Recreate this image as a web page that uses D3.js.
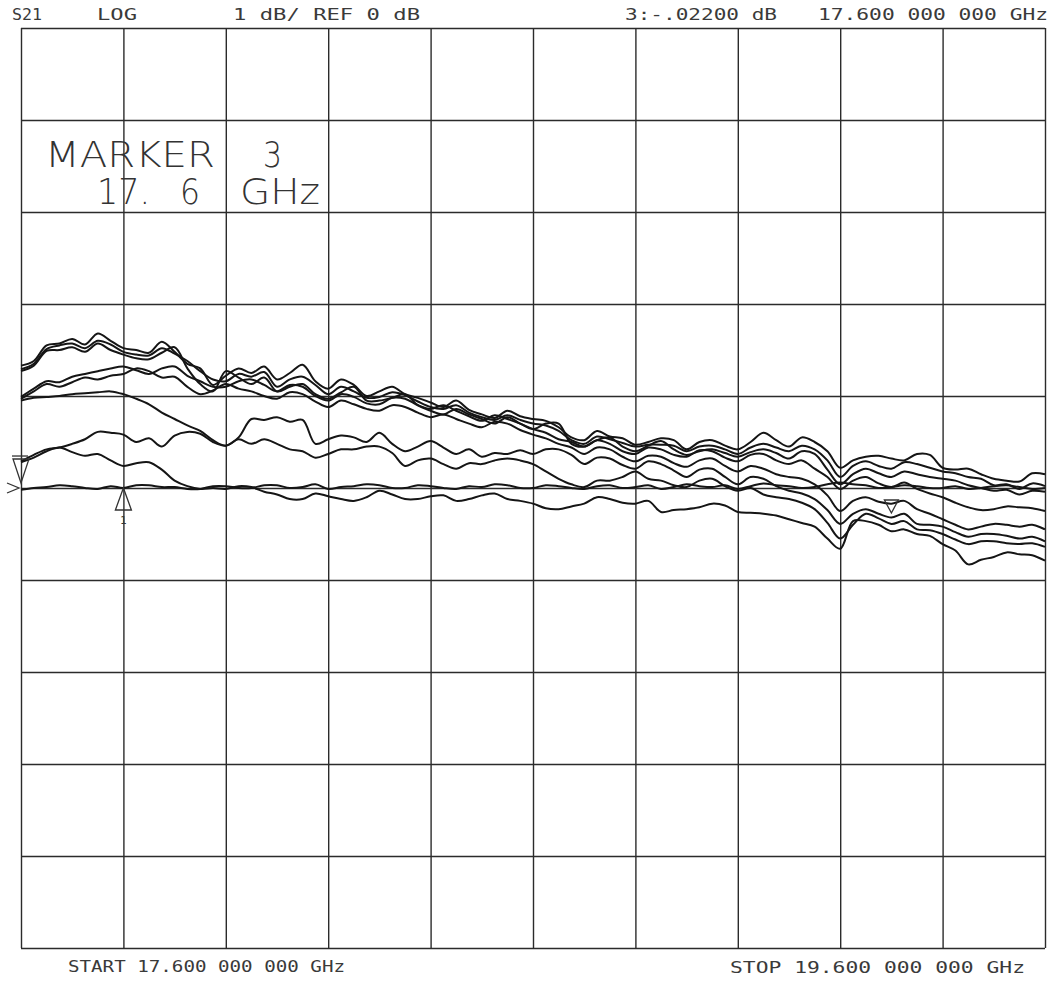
<!DOCTYPE html>
<html>
<head>
<meta charset="utf-8">
<script src="https://cdn.jsdelivr.net/npm/d3@7"></script>
<style>
  body { margin: 0; background: #fff; }
  svg { display: block; }
</style>
</head>
<body>
<svg id="chart"></svg>
<script>
// sweep points (GHz), 81 points
const freqs = [
  17.600, 17.625, 17.650, 17.675, 17.700, 17.725, 17.750, 17.775, 17.800, 17.825,
  17.850, 17.875, 17.900, 17.925, 17.950, 17.975, 18.000, 18.025, 18.050, 18.075,
  18.100, 18.125, 18.150, 18.175, 18.200, 18.225, 18.250, 18.275, 18.300, 18.325,
  18.350, 18.375, 18.400, 18.425, 18.450, 18.475, 18.500, 18.525, 18.550, 18.575,
  18.600, 18.625, 18.650, 18.675, 18.700, 18.725, 18.750, 18.775, 18.800, 18.825,
  18.850, 18.875, 18.900, 18.925, 18.950, 18.975, 19.000, 19.025, 19.050, 19.075,
  19.100, 19.125, 19.150, 19.175, 19.200, 19.225, 19.250, 19.275, 19.300, 19.325,
  19.350, 19.375, 19.400, 19.425, 19.450, 19.475, 19.500, 19.525, 19.550, 19.575,
  19.600];

const freqTicks = [17.6, 17.8, 18.0, 18.2, 18.4, 18.6, 18.8, 19.0, 19.2, 19.4, 19.6];
const dbTicks = [-5, -4, -3, -2, -1, 0, 1, 2, 3, 4, 5];

// S21 traces, dB
const trace1 = [
  1.33, 1.38, 1.55, 1.57, 1.62, 1.56, 1.68, 1.60, 1.52, 1.50,
  1.47, 1.59, 1.48, 1.35, 1.30, 1.12, 1.22, 1.30, 1.25, 1.32,
  1.18, 1.25, 1.34, 1.16, 1.08, 1.18, 1.12, 1.00, 1.05, 1.10,
  1.02, 0.98, 0.93, 0.88, 0.95, 0.85, 0.80, 0.76, 0.84, 0.78,
  0.75, 0.73, 0.66, 0.55, 0.52, 0.62, 0.56, 0.54, 0.47, 0.50,
  0.54, 0.52, 0.42, 0.50, 0.52, 0.46, 0.42, 0.50, 0.60, 0.52,
  0.45, 0.55, 0.50, 0.40, 0.22, 0.30, 0.34, 0.35, 0.32, 0.30,
  0.37, 0.36, 0.22, 0.20, 0.21, 0.15, 0.10, 0.08, 0.07, 0.16,
  0.15];
const trace2 = [
  1.29, 1.35, 1.51, 1.55, 1.57, 1.52, 1.60, 1.56, 1.48, 1.45,
  1.44, 1.52, 1.46, 1.38, 1.27, 1.18, 1.16, 1.24, 1.21, 1.26,
  1.10, 1.18, 1.21, 1.12, 1.02, 1.10, 1.05, 0.98, 0.99, 1.04,
  1.01, 0.94, 0.88, 0.86, 0.90, 0.82, 0.77, 0.74, 0.79, 0.74,
  0.70, 0.68, 0.62, 0.52, 0.48, 0.56, 0.53, 0.49, 0.45, 0.47,
  0.47, 0.46, 0.40, 0.45, 0.46, 0.42, 0.37, 0.44, 0.48, 0.44,
  0.40, 0.46, 0.42, 0.30, 0.12, 0.24, 0.29, 0.24, 0.21, 0.28,
  0.26, 0.22, 0.18, 0.16, 0.12, 0.10, 0.03, 0.04, -0.01, 0.05,
  0.02];
const trace3 = [
  1.27, 1.33, 1.49, 1.50, 1.53, 1.48, 1.57, 1.50, 1.45, 1.41,
  1.40, 1.47, 1.53, 1.30, 1.13, 1.05, 1.27, 1.20, 1.13, 1.20,
  1.05, 1.10, 1.13, 1.02, 0.97, 1.04, 1.10, 0.95, 0.95, 0.98,
  1.02, 0.90, 0.84, 0.80, 0.86, 0.80, 0.75, 0.70, 0.77, 0.70,
  0.64, 0.70, 0.70, 0.48, 0.45, 0.52, 0.55, 0.45, 0.40, 0.46,
  0.51, 0.42, 0.36, 0.40, 0.42, 0.38, 0.34, 0.39, 0.42, 0.38,
  0.32, 0.40, 0.37, 0.20, 0.04, 0.15, 0.21, 0.16, 0.12, 0.18,
  0.15, 0.12, 0.10, 0.08, 0.03, 0.00, -0.03, -0.02, -0.07, -0.03,
  -0.04];
const trace4 = [
  0.99, 1.08, 1.16, 1.15, 1.21, 1.24, 1.27, 1.30, 1.32, 1.28,
  1.24, 1.30, 1.32, 1.22, 1.16, 1.10, 1.10, 1.16, 1.18, 1.12,
  1.05, 1.12, 1.10, 1.00, 0.95, 1.02, 0.99, 0.92, 0.91, 0.98,
  0.97, 0.90, 0.86, 0.90, 0.84, 0.78, 0.73, 0.79, 0.75, 0.70,
  0.64, 0.60, 0.53, 0.50, 0.45, 0.52, 0.48, 0.40, 0.37, 0.44,
  0.42, 0.36, 0.34, 0.41, 0.40, 0.33, 0.29, 0.36, 0.37, 0.30,
  0.26, 0.30, 0.21, 0.12, -0.01, 0.08, 0.12, 0.05, 0.01, 0.06,
  -0.01, -0.06, -0.10, -0.16, -0.21, -0.24, -0.23, -0.20, -0.21, -0.22,
  -0.25];
const trace5 = [
  0.97, 1.05, 1.13, 1.10, 1.15, 1.20, 1.18, 1.22, 1.24, 1.30,
  1.27, 1.20, 1.21, 1.10, 1.02, 1.06, 1.13, 1.08, 1.05, 1.00,
  0.97, 1.04, 1.02, 0.94, 0.88, 0.95, 0.91, 0.86, 0.84, 0.90,
  0.88, 0.82, 0.77, 0.80, 0.75, 0.70, 0.66, 0.72, 0.70, 0.63,
  0.58, 0.54, 0.48, 0.44, 0.37, 0.44, 0.42, 0.34, 0.29, 0.35,
  0.34, 0.27, 0.23, 0.30, 0.32, 0.24, 0.18, 0.24, 0.21, 0.15,
  0.12, 0.10, 0.04, -0.08, -0.25, -0.14, -0.10, -0.15, -0.17, -0.14,
  -0.23, -0.28, -0.34, -0.40, -0.45, -0.42, -0.39, -0.40, -0.42, -0.40,
  -0.45];
const trace6 = [
  0.95, 0.98, 0.99, 1.00, 1.02, 1.03, 1.04, 1.05, 1.02, 0.97,
  0.91, 0.82, 0.75, 0.68, 0.62, 0.52, 0.46, 0.55, 0.75, 0.74,
  0.77, 0.72, 0.74, 0.48, 0.53, 0.57, 0.55, 0.50, 0.60, 0.48,
  0.40, 0.45, 0.51, 0.44, 0.37, 0.42, 0.34, 0.38, 0.37, 0.41,
  0.37, 0.42, 0.42, 0.36, 0.26, 0.33, 0.32, 0.25, 0.21, 0.29,
  0.26, 0.19, 0.12, 0.20, 0.21, 0.12, 0.04, 0.12, 0.10, 0.02,
  -0.03, -0.06, -0.12, -0.24, -0.39, -0.28, -0.23, -0.28, -0.32, -0.28,
  -0.39, -0.40, -0.42, -0.48, -0.53, -0.50, -0.50, -0.52, -0.55, -0.53,
  -0.58];
const trace7 = [
  0.29, 0.36, 0.42, 0.44, 0.48, 0.53, 0.61, 0.60, 0.58, 0.50,
  0.54, 0.45, 0.57, 0.61, 0.59, 0.50, 0.46, 0.53, 0.48, 0.53,
  0.48, 0.42, 0.40, 0.33, 0.37, 0.42, 0.42, 0.45, 0.45, 0.38,
  0.24, 0.30, 0.32, 0.26, 0.21, 0.27, 0.26, 0.30, 0.32, 0.30,
  0.26, 0.18, 0.10, 0.04, 0.01, 0.08, 0.08, 0.12, 0.18, 0.10,
  0.08, 0.03, 0.01, 0.08, 0.10, 0.02, -0.03, 0.00, -0.07, -0.10,
  -0.12, -0.16, -0.23, -0.38, -0.55, -0.40, -0.28, -0.33, -0.39, -0.36,
  -0.45, -0.46, -0.50, -0.56, -0.61, -0.58, -0.58, -0.60, -0.61, -0.60,
  -0.64];
const trace8 = [
  -0.02, 0.00, 0.01, 0.03, 0.02, 0.00, -0.01, 0.02, 0.00, 0.03,
  0.03, 0.01, 0.01, -0.01, -0.01, 0.02, 0.02, 0.00, 0.00, 0.03,
  0.03, 0.00, 0.01, 0.04, -0.01, 0.01, 0.02, 0.04, 0.03, 0.00,
  0.00, 0.03, 0.02, 0.00, -0.01, 0.02, 0.01, 0.04, 0.03, 0.00,
  0.00, 0.03, 0.02, 0.00, -0.01, 0.02, 0.03, 0.00, 0.01, 0.03,
  -0.01, 0.01, 0.04, 0.02, 0.01, 0.03, -0.01, 0.02, 0.05, 0.03,
  0.02, 0.00, 0.01, 0.04, 0.06, 0.04, 0.03, 0.00, 0.01, 0.03,
  0.02, 0.00, 0.00, 0.02, -0.01, 0.00, 0.02, 0.03, 0.01, -0.01,
  0.00];
const trace9 = [
  0.28, 0.33, 0.40, 0.44, 0.39, 0.35, 0.37, 0.30, 0.24, 0.27,
  0.28, 0.20, 0.08, 0.02, -0.01, 0.00, -0.01, 0.02, 0.01, -0.04,
  -0.07, -0.12, -0.12, -0.06, -0.09, -0.12, -0.14, -0.10, -0.03, -0.07,
  -0.12, -0.12, -0.09, -0.08, -0.14, -0.12, -0.08, -0.06, -0.12, -0.14,
  -0.17, -0.22, -0.23, -0.20, -0.17, -0.10, -0.12, -0.16, -0.17, -0.14,
  -0.26, -0.24, -0.23, -0.21, -0.17, -0.19, -0.26, -0.27, -0.28, -0.30,
  -0.34, -0.38, -0.42, -0.55, -0.66, -0.36, -0.36, -0.40, -0.47, -0.45,
  -0.50, -0.52, -0.61, -0.68, -0.83, -0.78, -0.75, -0.70, -0.72, -0.73,
  -0.79];

const traces = [trace1, trace2, trace3, trace4, trace5, trace6, trace7, trace8, trace9];

const markerFreq = 17.6;
const markerDb = -0.022;
const marker1Freq = 17.8;
const marker2Freq = 19.3;

const W = 1055, H = 981;
const plotLeft = 21, plotRight = 1045, plotTop = 28, plotBottom = 948;

const svg = d3.select('#chart')
  .attr('width', W)
  .attr('height', H);

const x = d3.scaleLinear().domain([17.6, 19.6]).range([plotLeft, plotRight]);
const y = d3.scaleLinear().domain([-5, 5]).range([plotBottom, plotTop]);

// graticule
svg.append('g')
  .attr('transform', `translate(0, ${plotBottom})`)
  .call(d3.axisBottom(x).tickValues(freqTicks).tickSize(-(plotBottom - plotTop)).tickFormat(''))
  .call(g => g.select('.domain').remove())
  .call(g => g.selectAll('line').attr('stroke', '#2b2b2b').attr('stroke-width', 1.4));

svg.append('g')
  .attr('transform', `translate(${plotLeft}, 0)`)
  .call(d3.axisLeft(y).tickValues(dbTicks).tickSize(-(plotRight - plotLeft)).tickFormat(''))
  .call(g => g.select('.domain').remove())
  .call(g => g.selectAll('line').attr('stroke', '#2b2b2b').attr('stroke-width', 1.4));

// traces
const line = d3.line()
  .x((d, i) => x(freqs[i]))
  .y(d => y(d))
  .curve(d3.curveCatmullRom.alpha(0.5));

svg.append('g')
  .selectAll('path')
  .data(traces)
  .join('path')
  .attr('d', line)
  .attr('fill', 'none')
  .attr('stroke', '#151515')
  .attr('stroke-width', 2)
  .attr('stroke-linejoin', 'round');

// markers
const mk = svg.append('g').attr('fill', 'none').attr('stroke', '#333').attr('stroke-width', 1.3);
let mx = x(markerFreq), my = y(markerDb) - 7;
mk.append('path').attr('d', `M${mx - 8},${my - 24} L${mx + 8},${my - 24} L${mx},${my} Z`);
mk.append('path').attr('d', `M${mx - 9},${my - 27} L${mx + 7},${my - 27}`);
// reference position
let ry = y(0);
mk.append('path').attr('d', `M${plotLeft - 14},${ry - 5} L${plotLeft - 2},${ry} L${plotLeft - 14},${ry + 5}`);
// marker 1
let m1 = x(marker1Freq);
mk.append('path').attr('d', `M${m1},${ry} L${m1 - 8},${ry + 22} L${m1 + 8},${ry + 22} Z`);
// marker 2
let m2 = x(marker2Freq), m2y = 513;
mk.append('path').attr('d', `M${m2 - 7},${m2y - 13} L${m2 + 7},${m2y - 13} L${m2},${m2y} Z`);

svg.append('text')
  .attr('x', m1).attr('y', ry + 36)
  .attr('text-anchor', 'middle')
  .style('font-family', 'DejaVu Sans Mono')
  .style('font-size', '11px')
  .attr('fill', '#333')
  .text('1');

// annotation text
const small = [
  {t: 'S21', x: 12, w: 30, y: 20},
  {t: 'LOG', x: 97, w: 40, y: 20},
  {t: '1 dB/ REF 0 dB', x: 233, w: 187, y: 20},
  {t: '3:-.02200 dB', x: 625, w: 152, y: 20},
  {t: '17.600 000 000 GHz', x: 818, w: 230, y: 20},
  {t: 'START 17.600 000 000 GHz', x: 68, w: 277, y: 972},
  {t: 'STOP 19.600 000 000 GHz', x: 730, w: 295, y: 973}
];

svg.append('g')
  .selectAll('text')
  .data(small)
  .join('text')
  .attr('x', d => d.x)
  .attr('y', d => d.y)
  .attr('textLength', d => d.w)
  .attr('lengthAdjust', 'spacingAndGlyphs')
  .style('font-family', 'DejaVu Sans Mono')
  .style('font-size', '15px')
  .attr('fill', '#3a3a3a')
  .text(d => d.t);

const big = [
  {t: 'MARKER', x: 45, w: 170, y: 167},
  {t: '3', x: 263, w: 19, y: 167},
  {t: '17.', x: 97, w: 53, y: 204},
  {t: '6', x: 180, w: 20, y: 204},
  {t: 'GHz', x: 240, w: 80, y: 204}
];

svg.append('g')
  .selectAll('text')
  .data(big)
  .join('text')
  .attr('x', d => d.x)
  .attr('y', d => d.y)
  .attr('textLength', d => d.w)
  .attr('lengthAdjust', 'spacingAndGlyphs')
  .style('font-family', 'DejaVu Sans')
  .style('font-weight', 200)
  .style('font-size', '36px')
  .attr('fill', '#333')
  .text(d => d.t);
</script>
</body>
</html>
